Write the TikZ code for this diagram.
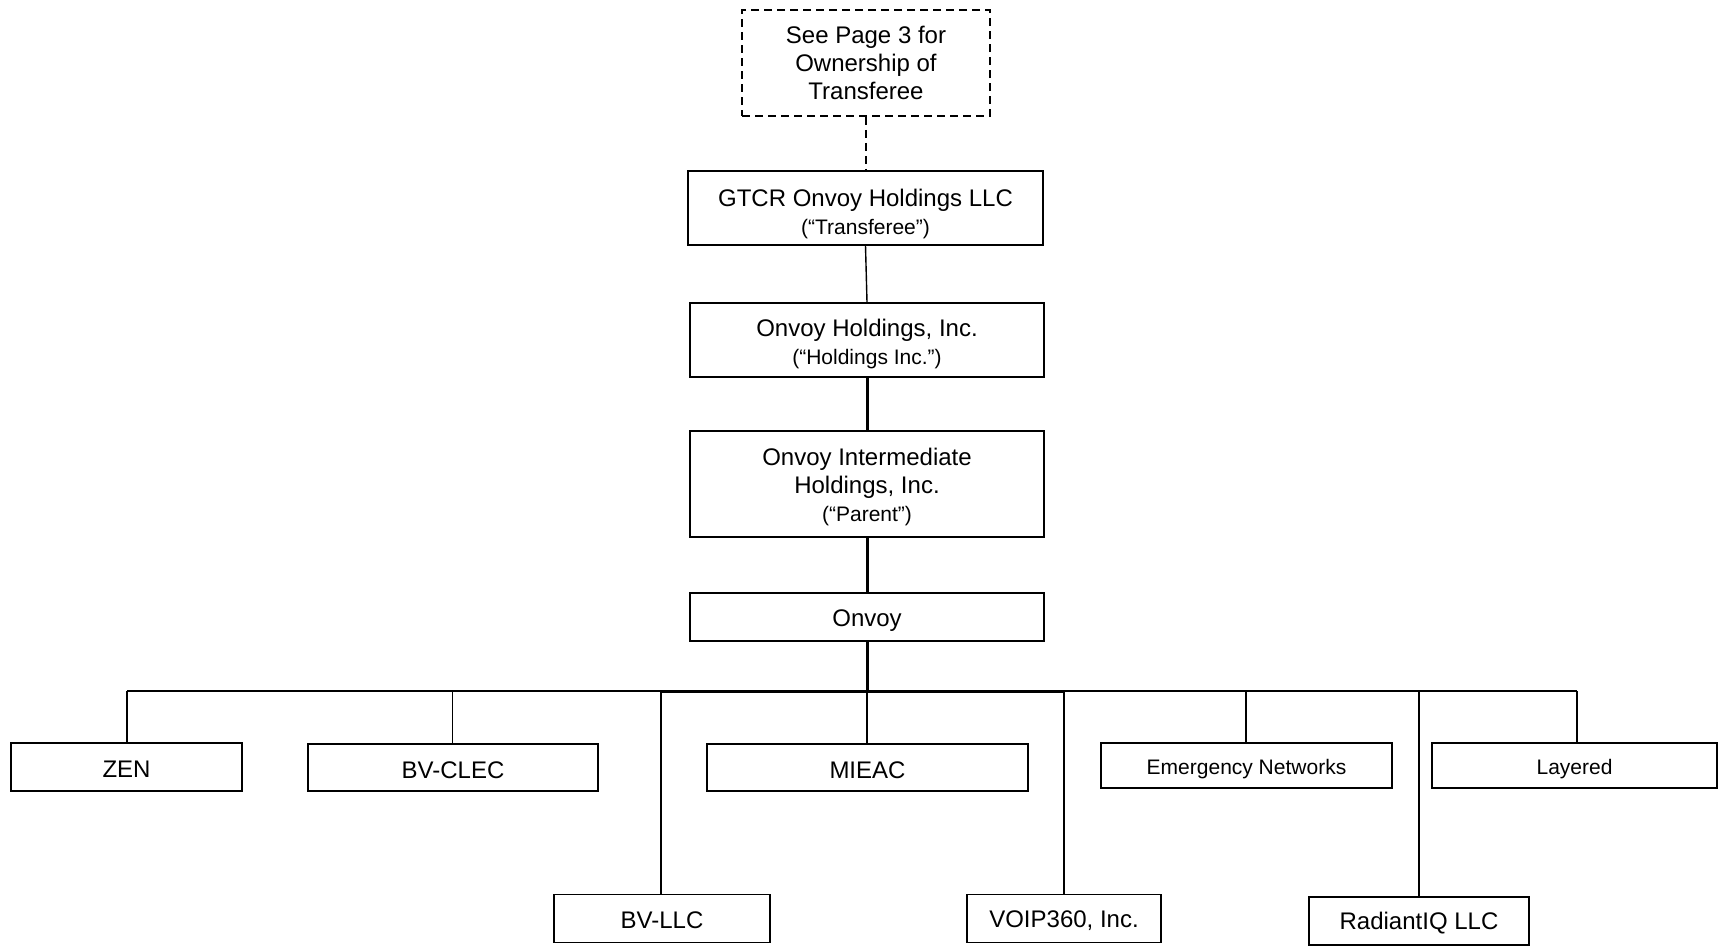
\documentclass[tikz,border=0pt]{standalone}
\usepackage{fontspec}
\setmainfont{Liberation Sans}
\begin{document}
\begin{tikzpicture}[x=1pt,y=-1pt,
  box/.style={draw, line width=1.6pt, rectangle, inner sep=0pt, align=center,
    font=\fontsize{24}{28}\selectfont},
  dbox/.style={box, dash pattern=on 8pt off 5pt},
  thin/.style={line width=1.4pt},
  thick/.style={line width=3pt},
  dline/.style={line width=1.6pt, dash pattern=on 8pt off 5pt}]
\useasboundingbox (0,0) rectangle (1718,945);
\newcommand{\sm}{\fontsize{21}{25}\selectfont}
\newcommand{\dn}[1]{\rule{0pt}{#1}}

\node[dbox, minimum width=248pt, minimum height=106pt] (see) at (866,63)
  {See Page 3 for\\Ownership of\\Transferee};
\node[box, minimum width=355pt, minimum height=74pt] (gtcr) at (865.5,208)
  {\dn{28.5pt}GTCR Onvoy Holdings LLC\\{\sm (“Transferee”)}};
\node[box, minimum width=354pt, minimum height=74pt] (hold) at (867,340)
  {\dn{26.3pt}Onvoy Holdings, Inc.\\{\sm (“Holdings Inc.”)}};
\node[box, minimum width=354pt, minimum height=106pt] (inter) at (867,484)
  {\dn{24pt}Onvoy Intermediate\\Holdings, Inc.\\{\sm (“Parent”)}};
\node[box, minimum width=354pt, minimum height=48pt] (onvoy) at (867,617) {\dn{24pt}Onvoy};

\node[box, minimum width=231pt, minimum height=48pt] (zen) at (126.5,767) {\dn{20pt}ZEN};
\node[box, minimum width=290pt, minimum height=47pt] (bvclec) at (453,767.5) {\dn{21.5pt}BV-CLEC};
\node[box, minimum width=321pt, minimum height=47pt] (mieac) at (867.5,767.5) {\dn{21.5pt}MIEAC};
\node[box, minimum width=291pt, minimum height=45pt, font=\sm] (emerg) at (1246.5,765.5) {\dn{22pt}Emergency Networks};
\node[box, minimum width=285pt, minimum height=45pt, font=\sm] (layered) at (1574.5,765.5) {\dn{22pt}Layered};
\node[box, minimum width=216pt, minimum height=48pt] (bvllc) at (662,918.5) {\dn{20pt}BV-LLC};
\node[box, minimum width=194pt, minimum height=48pt] (voip) at (1064,918.5) {\dn{21.5pt}VOIP360, Inc.};
\node[box, minimum width=220pt, minimum height=48pt] (radiant) at (1419,921) {\dn{21.5pt}RadiantIQ LLC};

\coordinate (bus) at (867,691);
\coordinate (bzen) at (127,691);
\coordinate (bclec) at (452.5,691);
\coordinate (bllc) at (661,691);
\coordinate (bmie) at (867,691);
\coordinate (bvoip) at (1064,691);
\coordinate (bemg) at (1246,691);
\coordinate (brad) at (1419,691);
\coordinate (blay) at (1577,691);

\draw[dline] (see.south) -- (see.south |- gtcr.north);
\draw[thin] (gtcr.south) -- (hold.north);
\draw[thick] (hold.south) -- (inter.north);
\draw[thick] (inter.south) -- (onvoy.north);
\draw[thick] (onvoy.south) -- (bus);

\draw[thin] (bzen) -- (blay);
\draw[thick] (bllc) -- (bvoip);

\draw[thin] (bzen) -- (bzen |- zen.north);
\draw[thin] (bclec) -- (bclec |- bvclec.north);
\draw[thin] (bllc) -- (bllc |- bvllc.north);
\draw[thin] (bmie) -- (bmie |- mieac.north);
\draw[thin] (bvoip) -- (bvoip |- voip.north);
\draw[thin] (bemg) -- (bemg |- emerg.north);
\draw[thin] (brad) -- (brad |- radiant.north);
\draw[thin] (blay) -- (blay |- layered.north);
\end{tikzpicture}
\end{document}
